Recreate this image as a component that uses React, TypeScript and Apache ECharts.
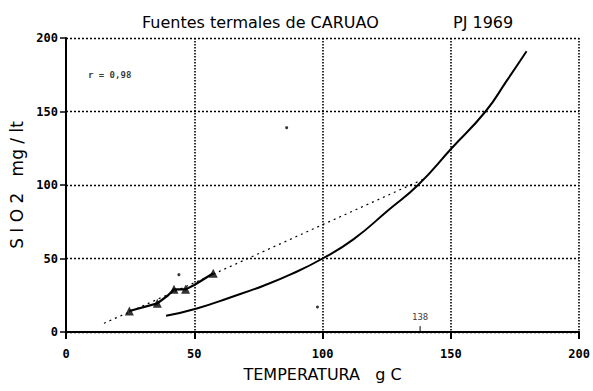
import React, { useEffect, useRef } from "react";
import * as echarts from "echarts";

const xTicks = [0, 50, 100, 150, 200];
const yTicks = [0, 50, 100, 150, 200];

// measured triangles (temperature, SiO2)
const measured: [number, number][] = [
  [24.7, 14.3],
  [35.6, 19.5],
  [42.1, 29],
  [46.6, 29],
  [57.4, 40],
];

// solid line joining the measured points
const measuredLine: [number, number][] = [
  [24.7, 14.3],
  [35.6, 19.5],
  [39.8, 25],
  [42.1, 29],
  [46.6, 29],
  [50, 32],
  [57.4, 40],
];

// dotted regression line
const regression: [number, number][] = [
  [14.8, 5.9],
  [50, 33.5],
  [100, 73],
  [140, 104.5],
];

// solid quartz solubility curve
const quartzCurve: [number, number][] = [
  [39, 11],
  [51, 16],
  [64, 23.5],
  [77, 31.5],
  [88, 39.5],
  [100, 50],
  [112, 63],
  [125.7, 83],
  [137.2, 100],
  [150.3, 125],
  [163.5, 150],
  [171.8, 171],
  [179.5, 191],
];

const specks: [number, number][] = [
  [86, 139],
  [98, 17],
  [44, 39],
];

const rText = "r = 0,98";
const rPos: [number, number] = [17, 175];
const markValue = 138;

export default function App() {
  const ref = useRef<HTMLDivElement>(null);
  useEffect(() => {
    document.body.style.margin = "0";
    const chart = echarts.init(ref.current!, null, { renderer: "svg" });
    const tickFont = {
      fontFamily: "'DejaVu Sans Mono', monospace",
      fontWeight: "bold" as const,
      fontSize: 12,
      color: "#000",
    };
    chart.setOption({
      animation: false,
      backgroundColor: "#fff",
      title: [
        {
          text: "Fuentes termales de CARUAO",
          left: 137,
          top: 9,
          textStyle: { fontFamily: "'DejaVu Sans', sans-serif", fontWeight: "normal", fontSize: 16, color: "#000" },
        },
        {
          text: "PJ 1969",
          left: 448,
          top: 9,
          textStyle: { fontFamily: "'DejaVu Sans', sans-serif", fontWeight: "normal", fontSize: 16, color: "#000" },
        },
      ],
      grid: { left: 66, right: 6, top: 38, bottom: 59 },
      xAxis: {
        type: "value",
        min: xTicks[0],
        max: xTicks[xTicks.length - 1],
        interval: 50,
        name: "TEMPERATURA   g C",
        nameLocation: "middle",
        nameGap: 34,
        nameTextStyle: { fontFamily: "'DejaVu Sans', sans-serif", fontSize: 16, color: "#000" },
        axisLine: { show: true, onZero: false, lineStyle: { color: "#000", width: 2 } },
        axisTick: { show: true, inside: false, length: 7, lineStyle: { color: "#000", width: 2 } },
        axisLabel: { ...tickFont, margin: 16 },
        splitLine: { show: true, lineStyle: { color: "#000", width: 1.6, type: [1.5, 1.5] } },
      },
      yAxis: {
        type: "value",
        min: yTicks[0],
        max: yTicks[yTicks.length - 1],
        interval: 50,
        name: "S I O 2   mg / lt",
        nameLocation: "middle",
        nameGap: 40,
        nameRotate: 90,
        nameTextStyle: { fontFamily: "'DejaVu Sans', sans-serif", fontSize: 17, color: "#000" },
        axisLine: { show: true, onZero: false, lineStyle: { color: "#000", width: 2 } },
        axisTick: { show: true, inside: false, length: 6, lineStyle: { color: "#000", width: 1.5 } },
        axisLabel: { ...tickFont, margin: 8 },
        splitLine: { show: true, lineStyle: { color: "#000", width: 1.3, type: [2, 2] } },
      },
      series: [
        {
          type: "line",
          data: quartzCurve,
          smooth: 0.5,
          symbol: "none",
          lineStyle: { color: "#000", width: 2 },
        },
        {
          type: "line",
          data: regression,
          symbol: "none",
          lineStyle: { color: "#000", width: 1.2, type: [2, 4] },
        },
        {
          type: "line",
          data: measuredLine,
          symbol: "none",
          lineStyle: { color: "#000", width: 2.2 },
        },
        {
          type: "scatter",
          data: measured,
          symbol: "triangle",
          symbolSize: 9,
          itemStyle: { color: "#000" },
        },
        {
          type: "scatter",
          data: specks,
          symbol: "circle",
          symbolSize: 3,
          itemStyle: { color: "#000" },
        },
        {
          type: "scatter",
          data: [rPos],
          symbolSize: 0,
          label: {
            show: true,
            position: "inside",
            formatter: rText,
            fontFamily: "'DejaVu Sans Mono', monospace",
            fontWeight: "bold",
            fontSize: 9,
            color: "#000",
          },
        },
        {
          type: "line",
          data: [
            [markValue, 0],
            [markValue, 4],
          ],
          symbol: "none",
          lineStyle: { color: "#000", width: 1 },
        },
        {
          type: "scatter",
          data: [[markValue, 10]],
          symbolSize: 0,
          label: {
            show: true,
            position: "inside",
            formatter: String(markValue),
            fontFamily: "'DejaVu Sans Mono', monospace",
            fontSize: 9,
            color: "#000",
          },
        },
      ],
    });
    return () => chart.dispose();
  }, []);
  return <div ref={ref} style={{ width: 593, height: 391 }} />;
}
